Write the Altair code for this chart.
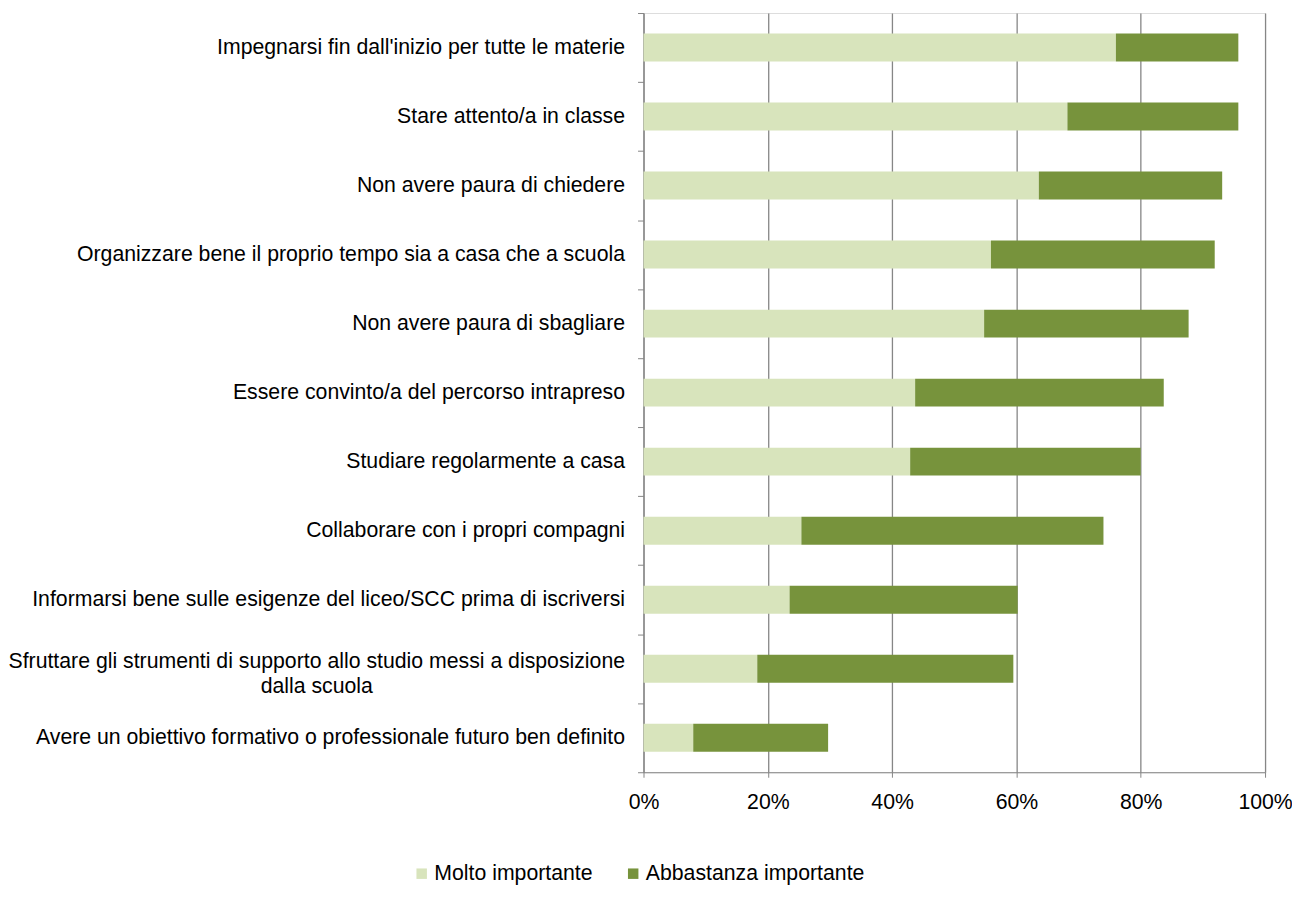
import altair as alt
import pandas as pd

categories = [
    "Impegnarsi fin dall'inizio per tutte le materie",
    "Stare attento/a in classe",
    "Non avere paura di chiedere",
    "Organizzare bene il proprio tempo sia a casa che a scuola",
    "Non avere paura di sbagliare",
    "Essere convinto/a del percorso intrapreso",
    "Studiare regolarmente a casa",
    "Collaborare con i propri compagni",
    "Informarsi bene sulle esigenze del liceo/SCC prima di iscriversi",
    "Sfruttare gli strumenti di supporto allo studio messi a disposizione\ndalla scuola",
    "Avere un obiettivo formativo o professionale futuro ben definito",
]
molto = [76.0, 68.2, 63.6, 55.9, 54.8, 43.7, 42.9, 25.4, 23.5, 18.3, 8.0]
abbastanza = [19.7, 27.5, 29.5, 36.0, 32.9, 40.0, 37.1, 48.6, 36.7, 41.2, 21.7]
series = ["Molto importante", "Abbastanza importante"]
colors = ["#D8E4BC", "#77933C"]

rows = []
for c, m, a in zip(categories, molto, abbastanza):
    rows.append({"cat": c, "serie": series[0], "val": m / 100, "ord": 0})
    rows.append({"cat": c, "serie": series[1], "val": a / 100, "ord": 1})
df = pd.DataFrame(rows)

FONT = "Liberation Sans"
GRAY = "#868686"
FS = 21.3
WRAPPED = "(isString(datum.value) && indexof(datum.value, 'dalla scuola') >= 0)"

yscale = alt.Scale(paddingInner=0, paddingOuter=0)

bars = alt.Chart(df).mark_bar(size=28).encode(
    y=alt.Y(
        "cat:N",
        sort=categories,
        title=None,
        scale=yscale,
        axis=alt.Axis(
            orient="left",
            labelExpr=f"{WRAPPED} ? '' : (isString(datum.label) ? datum.label : '')",
            labelFontSize=FS,
            labelFont=FONT,
            labelColor="#000000",
            labelLimit=2000,
            labelAlign="right",
            labelPadding=13,
            tickBand="extent",
            tickSize=6,
            tickColor=GRAY,
            domainColor=GRAY,
            grid=False,
        ),
    ),
    x=alt.X(
        "val:Q",
        stack="zero",
        title=None,
        scale=alt.Scale(domain=[0, 1], nice=False),
        axis=alt.Axis(
            orient="bottom",
            format="%",
            values=[0, 0.2, 0.4, 0.6, 0.8, 1.0],
            labelFontSize=FS,
            labelFont=FONT,
            labelColor="#000000",
            labelFlush=False,
            labelPadding=14,
            tickSize=5,
            tickColor=GRAY,
            domainColor=GRAY,
            grid=True,
            gridColor=GRAY,
            gridWidth=1.3,
        ),
    ),
    color=alt.Color(
        "serie:N",
        sort=series,
        scale=alt.Scale(domain=series, range=colors),
        legend=alt.Legend(
            title=None,
            orient="none",
            legendX=-233,
            legendY=852,
            direction="horizontal",
            symbolType="square",
            symbolSize=110,
            symbolStrokeWidth=0,
            labelFontSize=FS,
            labelFont=FONT,
            labelColor="#000000",
            labelLimit=1000,
            labelOffset=2,
            columnPadding=30,
        ),
    ),
    order=alt.Order("ord:Q"),
)

wrapped_label = alt.Chart(df).mark_point(opacity=0).encode(
    y=alt.Y(
        "cat:N",
        sort=categories,
        title=None,
        scale=yscale,
        axis=alt.Axis(
            orient="left",
            labelExpr=f"{WRAPPED} ? split(datum.label, '\\n') : ''",
            labelFontSize=FS,
            labelFont=FONT,
            labelColor="#000000",
            labelLimit=2000,
            labelLineHeight=25,
            labelAlign="center",
            labelPadding=0,
            labelOffset=-7,
            offset=328,
            ticks=False,
            domain=False,
            grid=False,
        ),
    ),
)

chart = alt.layer(bars, wrapped_label).resolve_axis(y="independent").properties(
    width=623,
    height=761,
    autosize=alt.AutoSizeParams(type="none"),
    padding={"left": 637, "top": 4, "right": 27, "bottom": 118},
).configure_view(strokeWidth=0).configure(font=FONT)

chart.save("out.html", embed_options={"renderer": "svg", "actions": False})
